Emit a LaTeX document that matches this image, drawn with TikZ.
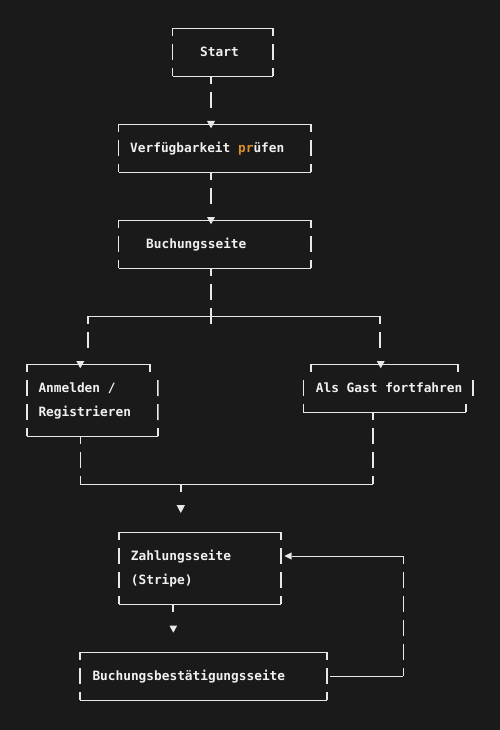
\documentclass[tikz,border=0pt]{standalone}
\usepackage{fontspec}
\setmonofont{DejaVu Sans Mono}
\usetikzlibrary{calc}
\definecolor{bg}{HTML}{1A1A1A}
\definecolor{ln}{HTML}{E8E8E8}
\definecolor{tx}{HTML}{F0F0F0}
\definecolor{kw}{HTML}{D8902C}
\tikzset{
  hseg/.style={draw=ln, line width=0.9pt},
  vseg/.style={draw=ln, line width=1.6pt, dash pattern=on 16pt off 8pt, dash phase=8pt},
  vsegc/.style={draw=ln, line width=1.6pt, dash pattern=on 16pt off 8pt, dash phase=0pt},
  boxarea/.style={draw=none, inner sep=0pt, outer sep=0pt, rectangle},
  lbl/.style={font=\ttfamily\bfseries\fontsize{12.8}{24}\selectfont, text=tx, inner sep=0pt, anchor=base west},
  tip/.style={fill=ln, draw=none}
}
\newcommand\drawframe[1]{%
  \draw[hseg] (#1.north west) -- (#1.north east);
  \draw[hseg] (#1.south west) -- (#1.south east);
  \draw[vseg] (#1.north west) -- (#1.south west);
  \draw[vseg] (#1.north east) -- (#1.south east);}
\newcommand\downtip[1]{\fill[tip] ($(#1)+(-4,-3)$) -- ($(#1)+(4,-3)$) -- ($(#1)+(0,4.3)$) -- cycle;}
\newcommand\downtipbig[1]{\fill[tip] ($(#1)+(-4.2,-3)$) -- ($(#1)+(4.2,-3)$) -- ($(#1)+(0,5)$) -- cycle;}
\begin{document}
\begin{tikzpicture}[x=1pt,y=-1pt]
\fill[bg] (0,0) rectangle (500,730);
\useasboundingbox (0,0) rectangle (500,730);

% ---------- regular boxes ----------
\node[boxarea, minimum width=100.5pt, minimum height=48pt] (start) at (222.75,52) {};
\node[boxarea, minimum width=192.5pt, minimum height=48pt] (verf) at (214.75,148) {};
\node[boxarea, minimum width=192.5pt, minimum height=48pt] (buch) at (214.75,244) {};
\node[boxarea, minimum width=162pt, minimum height=72pt] (zahl) at (199.7,568) {};
\node[boxarea, minimum width=246.7pt, minimum height=48pt] (best) at (203.35,676) {};
\drawframe{start}
\drawframe{verf}
\drawframe{buch}
\drawframe{zahl}
\drawframe{best}

% ---------- Anmelden / Registrieren box (irregular ASCII edges) ----------
\coordinate (anm-tl) at (26.7,364);
\coordinate (anm-tr) at (150,364);
\coordinate (anm-bl) at (26.7,436);
\coordinate (anm-br) at (158,436);
\draw[hseg] (anm-tl) -- (anm-tr);
\draw[hseg] (anm-bl) -- (anm-br);
\draw[vseg] (anm-tl) -- (anm-bl);
\draw[vseg] (anm-tr) -- ++(0,8);
\draw[vsegc] (157.8,380) -- (anm-br);

% ---------- Als Gast fortfahren box ----------
\coordinate (gast-tl) at (311,364);
\coordinate (gast-tr) at (457.7,364);
\coordinate (gast-bl) at (303.3,412);
\coordinate (gast-br) at (465.7,412);
\draw[hseg] (gast-tl) -- (gast-tr);
\draw[hseg] (gast-bl) -- (gast-br);
\draw[vseg] (gast-tl) -- ++(0,8);
\draw[vseg] (gast-tr) -- ++(0,8);
\draw[vsegc] (303.3,380) -- (gast-bl);
\draw[vsegc] (472.7,380) -- ++(0,16);
\draw[vsegc] (465.7,404) -- (gast-br);

% ---------- texts ----------
\node[lbl] (t-start) at (200,56.7) {Start};
\node[lbl] (t-verf) at (130,152.7) {Verfügbarkeit {\color{kw}pr}üfen};
\node[lbl] (t-buch) at (146,248.7) {Buchungsseite};
\node[lbl] (t-anm1) at (38.3,392.7) {Anmelden /};
\node[lbl] (t-anm2) at (38.3,416.7) {Registrieren};
\node[lbl] (t-gast) at (315.7,392.7) {Als Gast fortfahren};
\node[lbl] (t-zahl1) at (130.7,560.7) {Zahlungsseite};
\node[lbl] (t-zahl2) at (130.7,584.7) {(Stripe)};
\node[lbl] (t-best) at (92.3,680.7) {Buchungsbestätigungsseite};

% ---------- connector points ----------
\coordinate (start-s) at (211,76);
\coordinate (verf-n) at (211,124);
\coordinate (verf-s) at (211,172);
\coordinate (buch-n) at (211,220);
\coordinate (buch-s) at (211,268);
\coordinate (split) at (211,324);
\coordinate (split-l) at (88,316);
\coordinate (split-r) at (380,316);
\coordinate (anm-n) at (80.3,364);
\coordinate (gast-n) at (380.7,364);
\coordinate (anm-s) at (80.3,436);
\coordinate (join-l) at (80.3,484);
\coordinate (gast-s) at (372.7,412);
\coordinate (join-r) at (372.7,484);
\coordinate (join-m) at (180.7,484);
\coordinate (pay-in) at (180.8,508);
\coordinate (zahl-s) at (172.7,604);
\coordinate (best-in) at (173.3,628);
\coordinate (best-e) at (330,676);
\coordinate (loop-b) at (403.3,676);
\coordinate (loop-t) at (403.3,556);
\coordinate (zahl-e) at (291.5,556);

% ---------- connectors ----------
\draw[vseg] (start-s) -- ++(0,32);
\downtip{verf-n}
\draw[vseg] (verf-s) -- ++(0,32);
\downtip{buch-n}
\draw[vseg] (buch-s) -- (split);
\draw[hseg] (split-l) -- (split-r);
\draw[vseg] (split-l) -- ++(0,32);
\draw[vseg] (split-r) -- ++(0,32);
\downtip{anm-n}
\downtip{gast-n}
\draw[vseg] (anm-s) -- (join-l);
\draw[vseg] (gast-s) -- (join-r);
\draw[hseg] (join-l) -- (join-r);
\draw[vseg] (join-m) -- ++(0,8);
\downtipbig{pay-in}
\draw[vseg] (zahl-s) -- ++(0,8);
\fill[tip] ($(best-in)+(-3.8,-2.3)$) -- ($(best-in)+(3.8,-2.3)$) -- ($(best-in)+(0,4.7)$) -- cycle;
\draw[hseg] (best-e) -- (loop-b);
\draw[vseg] (loop-t) -- (loop-b);
\draw[hseg] (loop-t) -- (zahl-e);
\fill[tip] (zahl-e) -- ++(0,-3.6) -- (284.5,556) -- (291.5,559.6) -- cycle;
\end{tikzpicture}
\end{document}
